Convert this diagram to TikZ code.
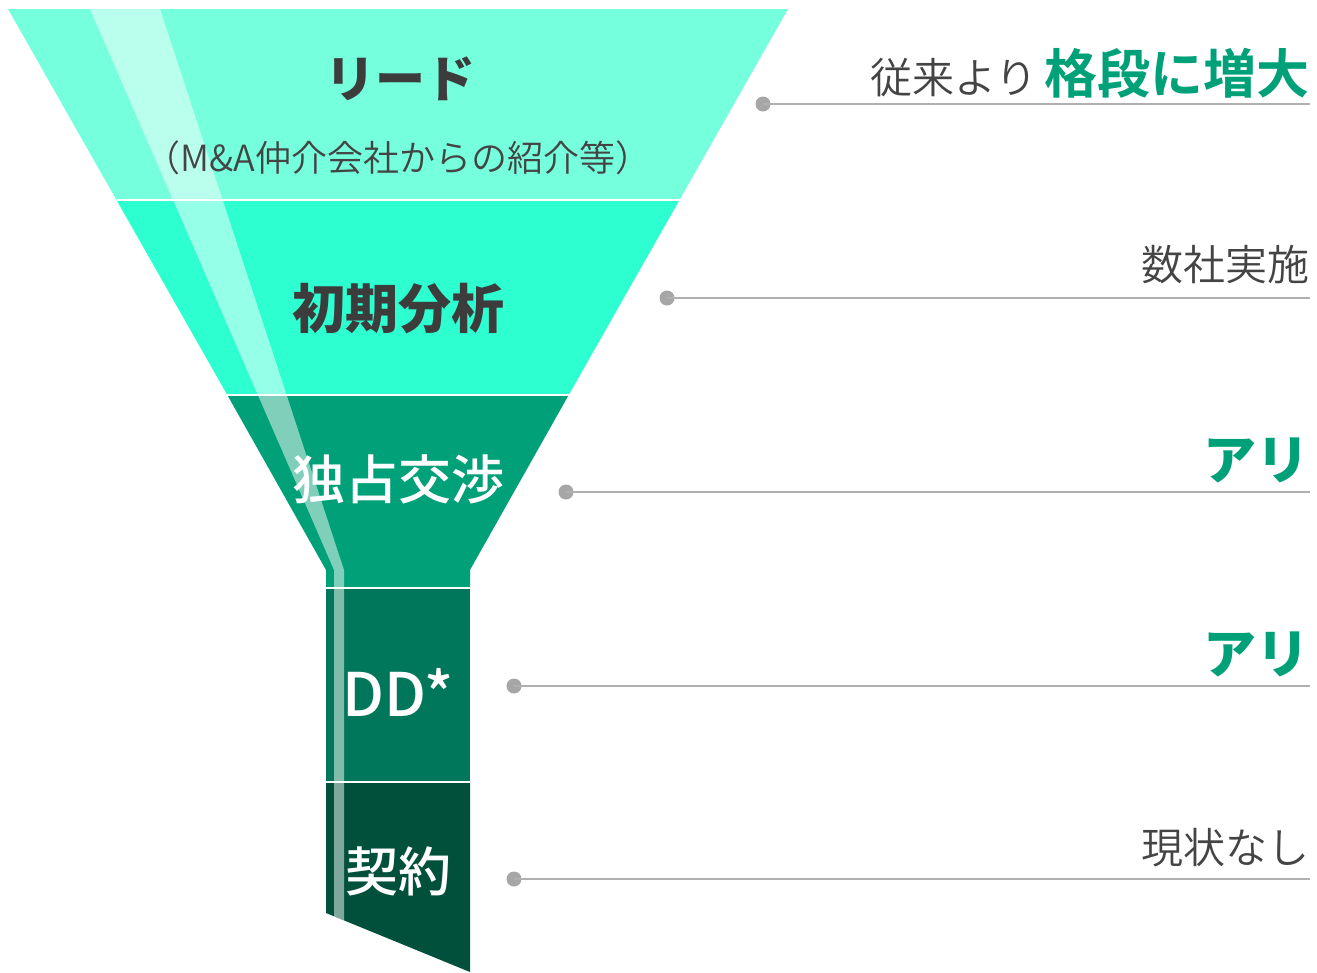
\documentclass[tikz,border=0pt]{standalone}
\usepackage{fontspec}
\setmainfont{Noto Sans CJK JP}
\newfontfamily\medfont{Noto Sans CJK JP Medium}
\newfontfamily\lightfont{Noto Sans CJK JP DemiLight}
\definecolor{cA}{HTML}{76FFDD}
\definecolor{cB}{HTML}{2EFFD0}
\definecolor{cC}{HTML}{00A078}
\definecolor{cD}{HTML}{00775A}
\definecolor{cE}{HTML}{00503C}
\definecolor{txtdark}{HTML}{3C3C3C}
\definecolor{txtgray}{HTML}{444444}
\definecolor{accent}{HTML}{00A078}
\definecolor{dotgray}{HTML}{A6A6A6}
\definecolor{linegray}{HTML}{B0B0B0}
\tikzset{
  stagetitle/.style={inner sep=0pt, text=txtdark, font=\fontsize{50}{58}\selectfont\bfseries},
  stagewhite/.style={inner sep=0pt, text=white, font=\fontsize{53}{60}\selectfont\medfont},
  sublabel/.style={inner sep=0pt, text=txtgray, font=\fontsize{36}{42}\selectfont\lightfont},
  rightlabel/.style={inner sep=0pt, anchor=east, text=txtgray, font=\fontsize{42}{48}\selectfont\lightfont},
  greenlabel/.style={inner sep=0pt, anchor=east, text=accent, font=\fontsize{53}{60}\selectfont\bfseries},
  dotnode/.style={circle, fill=dotgray, inner sep=0pt, minimum size=15pt},
  leader/.style={draw=linegray, line width=1.5pt},
  sep/.style={draw=white, line width=2pt},
}
\begin{document}
\begin{tikzpicture}[x=1pt,y=-1pt]
\useasboundingbox (0,0) rectangle (1317,972);
% funnel sections
\fill[cA] (8,9) -- (788,9) -- (679.5,200) -- (116.5,200) -- cycle;
\fill[cB] (116.5,200) -- (679.5,200) -- (568.7,395) -- (227.3,395) -- cycle;
\fill[cC] (227.3,395) -- (568.7,395) -- (470,570) -- (470,588) -- (326,588) -- (326,570) -- cycle;
\fill[cD] (326,588) rectangle (470,782);
\fill[cE] (326,782) -- (470,782) -- (470,972) -- (326,913) -- cycle;
% highlight stripe
\fill[white, opacity=0.5] (90,9) -- (160,9) -- (344,570) -- (344,920.4) -- (334,916.3) -- (334,570) -- cycle;
% separators
\draw[sep] (116.5,200) -- (679.5,200);
\draw[sep] (227.3,395) -- (568.7,395);
\draw[sep] (326,588) -- (470,588);
\draw[sep] (326,782) -- (470,782);
% stage labels
\node[stagetitle] (lead) at (400,79) {リード};
\node[sublabel] (leadsub) at (398,158) {（M\&A仲介会社からの紹介等）};
\node[stagetitle, font=\fontsize{53}{60}\selectfont\bfseries] (analysis) at (398,309) {初期分析};
\node[stagewhite] (nego) at (398,479) {独占交渉};
\node[stagewhite, font=\fontsize{60}{66}\selectfont\medfont] (dd) at (398,692) {DD*};
\node[stagewhite] (contract) at (398,871) {契約};
% dots and leaders
\node[dotnode] (d1) at (763,104) {};
\node[dotnode] (d2) at (667,298) {};
\node[dotnode] (d3) at (566,492) {};
\node[dotnode] (d4) at (514,686) {};
\node[dotnode] (d5) at (514,879) {};
\coordinate (e1) at (1310,104);
\coordinate (e2) at (1310,298);
\coordinate (e3) at (1310,492);
\coordinate (e4) at (1310,686);
\coordinate (e5) at (1310,879);
\draw[leader] (d1.center) -- (e1);
\draw[leader] (d2.center) -- (e2);
\draw[leader] (d3.center) -- (e3);
\draw[leader] (d4.center) -- (e4);
\draw[leader] (d5.center) -- (e5);
% right labels
\node[rightlabel] (r1) at (1310,73) {従来より\,{\color{accent}\fontsize{53}{60}\selectfont\bfseries 格段に増大}};
\node[rightlabel] (r2) at (1310,265) {数社実施};
\node[greenlabel] (r3) at (1310,460) {アリ};
\node[greenlabel] (r4) at (1310,654) {アリ};
\node[rightlabel] (r5) at (1310,848) {現状なし};
\end{tikzpicture}
\end{document}
